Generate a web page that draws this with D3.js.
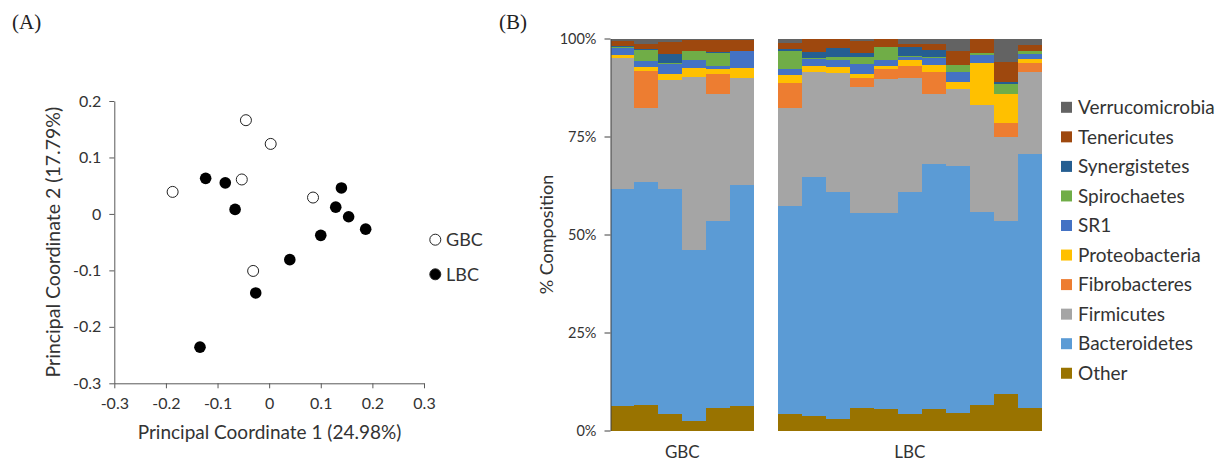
<!DOCTYPE html>
<html>
<head>
<meta charset="utf-8">
<script src="https://cdn.jsdelivr.net/npm/d3@7"></script>
<style>
  html, body { margin: 0; padding: 0; background: #fff; }
  svg { display: block; font-family: Lato, "Open Sans", sans-serif; }
</style>
</head>
<body>
<svg id="chart" width="1225" height="464"></svg>
<script>
// ---- panel A: PCoA ----
const gbcX = [-0.045, 0.003, -0.053, -0.187, 0.085, -0.031];
const gbcY = [0.166, 0.124, 0.061, 0.039, 0.029, -0.101];
const lbcX = [-0.123, -0.085, -0.066, 0.140, 0.129, 0.154, 0.187, 0.100, 0.040, -0.026, -0.134];
const lbcY = [0.063, 0.055, 0.008, 0.046, 0.012, -0.005, -0.027, -0.038, -0.081, -0.140, -0.236];
const pcoTicksX = [-0.3, -0.2, -0.1, 0, 0.1, 0.2, 0.3];
const pcoTicksY = [-0.3, -0.2, -0.1, 0, 0.1, 0.2];

// ---- panel B: composition (% per sample) ----
const groupNames = ["GBC", "LBC"];
const groupSizes = [6, 11];
const phyla = ["Other", "Bacteroidetes", "Firmicutes", "Fibrobacteres", "Proteobacteria",
               "SR1", "Spirochaetes", "Synergistetes", "Tenericutes", "Verrucomicrobia"];
const colors = ["#997300", "#5b9bd5", "#a5a5a5", "#ed7d31", "#ffc000",
                "#4472c4", "#70ad47", "#255e91", "#9e480e", "#636363"];
const other           = [6.2, 6.5, 4.2, 2.5, 5.7, 6.2,  4.2, 3.7, 3.0, 5.7, 5.6, 4.2, 5.6, 4.5, 6.5, 9.2, 5.7];
const bacteroidetes   = [55.3, 57.0, 57.3, 43.5, 47.8, 56.5,  53.1, 61.0, 57.8, 49.7, 49.8, 56.6, 62.4, 63.1, 49.3, 44.3, 64.8];
const firmicutes      = [33.5, 18.8, 27.9, 44.2, 32.3, 27.3,  25.0, 26.8, 30.3, 32.3, 34.3, 29.2, 17.8, 19.6, 27.3, 21.3, 21.0];
const fibrobacteres   = [0, 9.4, 0, 0, 5.1, 0,  6.4, 0, 0, 2.2, 2.6, 3.0, 5.7, 0, 0, 3.7, 2.3];
const proteobacteria  = [0.7, 1.1, 1.5, 2.2, 1.3, 2.4,  2.1, 1.6, 1.7, 1.0, 0.8, 1.5, 1.7, 1.7, 10.7, 7.3, 1.0];
const sr1             = [1.9, 1.4, 2.5, 2.1, 0.9, 4.4,  1.4, 1.6, 1.7, 2.6, 1.3, 0.7, 1.8, 2.6, 2.1, 0, 1.2];
const spirochaetes    = [0.3, 2.9, 0.3, 2.3, 3.2, 0,  4.7, 0.4, 0.7, 1.9, 3.4, 0.3, 0.4, 1.8, 0.5, 2.5, 0.9];
const synergistetes   = [0.3, 0.3, 2.3, 0, 0.3, 0,  0.3, 1.5, 2.3, 0.8, 0, 2.3, 1.7, 0, 0, 0.7, 0];
const tenericutes     = [1.2, 1.2, 3.2, 2.7, 2.9, 2.8,  1.7, 3.4, 2.5, 3.2, 2.2, 0.8, 1.5, 3.4, 3.6, 4.9, 1.4];
const verrucomicrobia = [0.6, 1.4, 0.8, 0.5, 0.5, 0.4,  1.1, 0, 0, 0.6, 0, 1.4, 1.4, 3.3, 0, 6.1, 1.7];
const pctTicks = [0, 0.25, 0.5, 0.75, 1];

const svg = d3.select("#chart");
const textCol = "#333";
const axisCol = "#595959";

// panel letters
svg.append("text").attr("x", 12).attr("y", 29)
  .style("font-family", "Liberation Serif, serif").style("font-size", "21px").attr("fill", "#222").text("(A)");
svg.append("text").attr("x", 499).attr("y", 29)
  .style("font-family", "Liberation Serif, serif").style("font-size", "21px").attr("fill", "#222").text("(B)");

// ---------- scatter ----------
const x = d3.scaleLinear().domain([-0.3, 0.3]).range([114.3, 424]);
const y = d3.scaleLinear().domain([-0.3, 0.2]).range([383.3, 101]);
const fmt = d => d === 0 ? "0" : String(+d.toFixed(1));

const ax = svg.append("g").attr("transform", `translate(0,${y(-0.3)})`)
  .call(d3.axisBottom(x).tickValues(pcoTicksX).tickFormat(fmt).tickSize(5).tickSizeOuter(0).tickPadding(9));
const ay = svg.append("g").attr("transform", `translate(${x(-0.3)},0)`)
  .call(d3.axisLeft(y).tickValues(pcoTicksY).tickFormat(fmt).tickSize(5).tickSizeOuter(0).tickPadding(8));
[ax, ay].forEach(g => {
  g.select(".domain").attr("stroke", axisCol);
  g.selectAll(".tick line").attr("stroke", axisCol);
  g.selectAll(".tick text").attr("fill", textCol).style("font-size", "16px").style("font-family", "Lato");
});

svg.append("text").attr("x", 269.5).attr("y", 439).attr("text-anchor", "middle")
  .attr("fill", textCol).style("font-size", "19px").text("Principal Coordinate 1 (24.98%)");
svg.append("text").attr("transform", `translate(60,${(y(-0.3) + y(0.2)) / 2}) rotate(-90)`)
  .attr("text-anchor", "middle").attr("fill", textCol).style("font-size", "19.5px")
  .text("Principal Coordinate 2 (17.79%)");

const pts = svg.append("g");
pts.selectAll("circle.lbc").data(d3.zip(lbcX, lbcY)).join("circle").attr("class", "lbc")
  .attr("cx", d => x(d[0])).attr("cy", d => y(d[1])).attr("r", 5.8).attr("fill", "#000");
pts.selectAll("circle.gbc").data(d3.zip(gbcX, gbcY)).join("circle").attr("class", "gbc")
  .attr("cx", d => x(d[0])).attr("cy", d => y(d[1])).attr("r", 5.5)
  .attr("fill", "#fff").attr("stroke", "#222").attr("stroke-width", 1);

const leg1 = svg.append("g");
[["GBC", "#fff"], ["LBC", "#000"]].forEach(([name, fill], i) => {
  const cy = 239.7 + i * 34.6;
  leg1.append("circle").attr("cx", 435.3).attr("cy", cy).attr("r", 5.5)
    .attr("fill", fill).attr("stroke", "#222").attr("stroke-width", 1);
  leg1.append("text").attr("x", 446).attr("y", cy).attr("dy", "0.35em")
    .attr("fill", textCol).style("font-size", "18px").text(name);
});

// ---------- stacked bars ----------
const series = [other, bacteroidetes, firmicutes, fibrobacteres, proteobacteria,
                sr1, spirochaetes, synergistetes, tenericutes, verrucomicrobia];
const samples = [];
groupNames.forEach((g, gi) => {
  for (let i = 0; i < groupSizes[gi]; i++) samples.push({ id: g + (i + 1), group: g });
});
const rows = samples.map((s, si) => {
  const r = { id: s.id, group: s.group };
  phyla.forEach((p, pi) => { r[p] = series[pi][si]; });
  return r;
});
// empty slot between the two groups
const slotDomain = [...samples.filter(s => s.group === "GBC").map(s => s.id), "gap",
                    ...samples.filter(s => s.group === "LBC").map(s => s.id)];
const xb = d3.scaleBand().domain(slotDomain).range([610.5, 1041.5]).padding(0);
const yb = d3.scaleLinear().domain([0, 1]).range([430.5, 38.5]);

const stacked = d3.stack().keys(phyla).offset(d3.stackOffsetExpand)(rows);
const colorOf = d3.scaleOrdinal().domain(phyla).range(colors);

svg.append("g").selectAll("g").data(stacked).join("g")
  .attr("fill", d => colorOf(d.key))
  .selectAll("rect").data(d => d).join("rect")
  .attr("x", d => xb(d.data.id))
  .attr("width", xb.bandwidth())
  .attr("y", d => yb(d[1]))
  .attr("height", d => yb(d[0]) - yb(d[1]))
  .attr("shape-rendering", "crispEdges");

const ayb = svg.append("g").attr("transform", "translate(610.5,0)")
  .call(d3.axisLeft(yb).tickValues(pctTicks).tickFormat(d3.format(".0%")).tickSize(6).tickSizeOuter(0).tickPadding(8));
ayb.select(".domain").attr("stroke", "#404040");
ayb.selectAll(".tick line").attr("stroke", "#404040");
ayb.selectAll(".tick text").attr("fill", textCol).style("font-size", "14.5px").style("font-family", "Lato");

svg.append("text").attr("transform", `translate(553,${yb(0.5)}) rotate(-90)`)
  .attr("text-anchor", "middle").attr("fill", textCol).style("font-size", "18px").text("% Composition");

groupNames.forEach(g => {
  const ids = samples.filter(s => s.group === g).map(s => s.id);
  const cx = (xb(ids[0]) + xb(ids[ids.length - 1]) + xb.bandwidth()) / 2;
  svg.append("text").attr("x", cx).attr("y", 458).attr("text-anchor", "middle")
    .attr("fill", textCol).style("font-size", "17px").text(g);
});

// legend, top entry is the top of the stack
const leg2 = svg.append("g");
phyla.slice().reverse().forEach((p, i) => {
  const cy = 107.3 + i * 29.55;
  leg2.append("rect").attr("x", 1061).attr("y", cy - 5.5).attr("width", 11).attr("height", 11)
    .attr("fill", colorOf(p));
  leg2.append("text").attr("x", 1078).attr("y", cy).attr("dy", "0.35em")
    .attr("fill", textCol).style("font-size", "19px").text(p);
});
</script>
</body>
</html>
